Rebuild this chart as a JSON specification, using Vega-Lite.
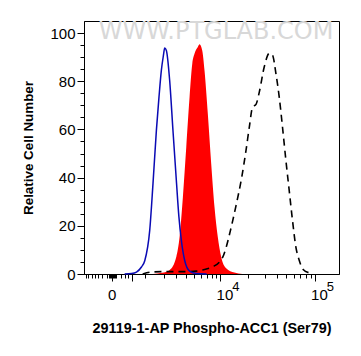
{
  "$schema": "https://vega.github.io/schema/vega-lite/v6.json",
  "width": 255,
  "height": 253,
  "autosize": {"type": "none"},
  "padding": {"left": 84, "top": 21, "right": 22, "bottom": 82},
  "background": "white",
  "config": {
    "view": {"stroke": "black", "strokeWidth": 1},
    "axis": {"grid": false, "domainColor": "black", "tickColor": "black", "labelColor": "black", "labelFont": "Liberation Sans", "labelFontSize": 15, "titleFont": "Liberation Sans", "titleFontWeight": "bold", "titleColor": "black", "labelOverlap": false, "labelFlush": false}
  },
  "datasets": {
    "blue": [
      {"x": 300, "y": 0}, {"x": 500, "y": 0.2}, {"x": 665, "y": 0.8}, {"x": 851, "y": 2.9}, {"x": 987, "y": 5.5},
      {"x": 1214, "y": 18.2}, {"x": 1378, "y": 37.6}, {"x": 1562, "y": 59.7}, {"x": 1713, "y": 73.5}, {"x": 1860, "y": 84.6},
      {"x": 2000, "y": 91}, {"x": 2077, "y": 93.8}, {"x": 2196, "y": 92.8}, {"x": 2440, "y": 80.4}, {"x": 2704, "y": 59.7},
      {"x": 2998, "y": 38.9}, {"x": 3239, "y": 23.7}, {"x": 3475, "y": 14.1}, {"x": 3822, "y": 5.8}, {"x": 4402, "y": 1.2},
      {"x": 5294, "y": 0.2}, {"x": 7000, "y": 0}
    ],
    "red": [
      {"x": 1378, "y": 0}, {"x": 1900, "y": 0.5}, {"x": 2440, "y": 1.7}, {"x": 2998, "y": 7.2}, {"x": 3306, "y": 15.5},
      {"x": 3640, "y": 32}, {"x": 4012, "y": 52.8}, {"x": 4402, "y": 73.5}, {"x": 4745, "y": 87.3}, {"x": 5055, "y": 91.5},
      {"x": 5529, "y": 94.2}, {"x": 5789, "y": 95.3}, {"x": 6222, "y": 92.8}, {"x": 6614, "y": 84.5}, {"x": 7214, "y": 66.6},
      {"x": 7883, "y": 45.9}, {"x": 8586, "y": 27.9}, {"x": 9345, "y": 15.5}, {"x": 10192, "y": 7.2}, {"x": 11565, "y": 2.4},
      {"x": 14236, "y": 0.6}, {"x": 17352, "y": 0}
    ],
    "black": [
      {"x": 900, "y": 0}, {"x": 1300, "y": 0.8}, {"x": 2000, "y": 1}, {"x": 3000, "y": 1}, {"x": 4000, "y": 1},
      {"x": 5300, "y": 1.2}, {"x": 6300, "y": 1.7}, {"x": 8217, "y": 3}, {"x": 9760, "y": 5}, {"x": 10614, "y": 7},
      {"x": 11565, "y": 11}, {"x": 12786, "y": 17.5}, {"x": 14850, "y": 28.5}, {"x": 17056, "y": 40}, {"x": 19004, "y": 51.4},
      {"x": 20601, "y": 61}, {"x": 22331, "y": 69.3}, {"x": 24254, "y": 70.4}, {"x": 26282, "y": 75.5}, {"x": 29664, "y": 86},
      {"x": 33466, "y": 91.6}, {"x": 36230, "y": 90.8}, {"x": 39310, "y": 83.2}, {"x": 42546, "y": 73.5}, {"x": 46045, "y": 61},
      {"x": 49951, "y": 47.2}, {"x": 54041, "y": 34.8}, {"x": 58468, "y": 22.4}, {"x": 63399, "y": 11.3}, {"x": 68574, "y": 5.8},
      {"x": 75421, "y": 1.9}, {"x": 86900, "y": 0.5}
    ]
  },
  "resolve": {"axis": {"x": "independent", "y": "independent"}},
  "layer": [
    {
      "data": {"name": "red"},
      "mark": {"type": "area", "color": "#ff0000", "interpolate": "monotone"},
      "encoding": {
        "x": {
          "field": "x", "type": "quantitative",
          "scale": {"type": "symlog", "constant": 830, "domain": [-760, 177000], "nice": false, "zero": false},
          "axis": {
            "orient": "bottom",
            "values": [-700, -600, -500, -400, -300, -200, -100, -60, -40, -20, 0, 20, 40, 60, 100, 200, 300, 400, 500, 1000, 2000, 3000, 4000, 5000, 6000, 7000, 8000, 9000, 10000, 20000, 30000, 40000, 50000, 60000, 70000, 80000, 90000, 100000],
            "labelExpr": "datum.value == 0 ? '0' : (datum.value == 10000 || datum.value == 100000) ? '10' : ''",
            "tickSize": {"condition": {"test": "datum.value == 0 || datum.value == 500 || datum.value == 10000 || datum.value == 100000", "value": 7}, "value": 4},
            "labelOffset": {"condition": {"test": "datum.value > 0", "value": 4}, "value": 0},
            "labelPadding": 6,
            "title": "29119-1-AP Phospho-ACC1 (Ser79)",
            "titleFontSize": 14.4,
            "titlePadding": 19
          }
        },
        "y": {
          "field": "y", "type": "quantitative",
          "scale": {"domain": [0, 105], "nice": false},
          "axis": {
            "orient": "left",
            "values": [0, 5, 10, 15, 20, 25, 30, 35, 40, 45, 50, 55, 60, 65, 70, 75, 80, 85, 90, 95, 100],
            "labelExpr": "datum.value % 20 == 0 ? datum.label : ''",
            "tickSize": {"condition": {"test": "datum.value % 20 == 0", "value": 7}, "value": 4},
            "labelPadding": 2,
            "title": "Relative Cell Number",
            "titleFontSize": 13.4,
            "titlePadding": 14
          }
        }
      }
    },
    {
      "data": {"name": "black"},
      "mark": {"type": "line", "color": "black", "strokeWidth": 1.6, "strokeDash": [7, 5], "interpolate": "monotone"},
      "encoding": {
        "x": {
          "field": "x", "type": "quantitative",
          "scale": {"type": "symlog", "constant": 830, "domain": [-760, 177000], "nice": false, "zero": false},
          "axis": {
            "orient": "bottom",
            "values": [10000, 100000],
            "labelExpr": "datum.value == 10000 ? '4' : '5'",
            "ticks": false,
            "domain": false,
            "labelFontSize": 13,
            "labelOffset": 15,
            "labelPadding": 6,
            "title": null
          }
        },
        "y": {"field": "y", "type": "quantitative", "scale": {"domain": [0, 105], "nice": false}, "axis": null}
      }
    },
    {
      "data": {"name": "blue"},
      "mark": {"type": "line", "color": "#0a0ab4", "strokeWidth": 1.5, "interpolate": "monotone"},
      "encoding": {
        "x": {"field": "x", "type": "quantitative", "scale": {"type": "symlog", "constant": 830, "domain": [-760, 177000], "nice": false, "zero": false}, "axis": null},
        "y": {"field": "y", "type": "quantitative", "scale": {"domain": [0, 105], "nice": false}, "axis": null}
      }
    },
    {
      "data": {"values": [{"label": "WWW.PTGLAB.COM"}]},
      "mark": {"type": "text", "font": "DejaVu Sans", "fontSize": 24, "color": "#d8d8d8", "baseline": "middle", "align": "center"},
      "encoding": {
        "text": {"field": "label"},
        "x": {"datum": 8970, "type": "quantitative", "scale": {"type": "symlog", "constant": 830, "domain": [-760, 177000], "nice": false, "zero": false}, "axis": null},
        "y": {"datum": 100.5, "type": "quantitative", "scale": {"domain": [0, 105], "nice": false}, "axis": null}
      }
    }
  ]
}
